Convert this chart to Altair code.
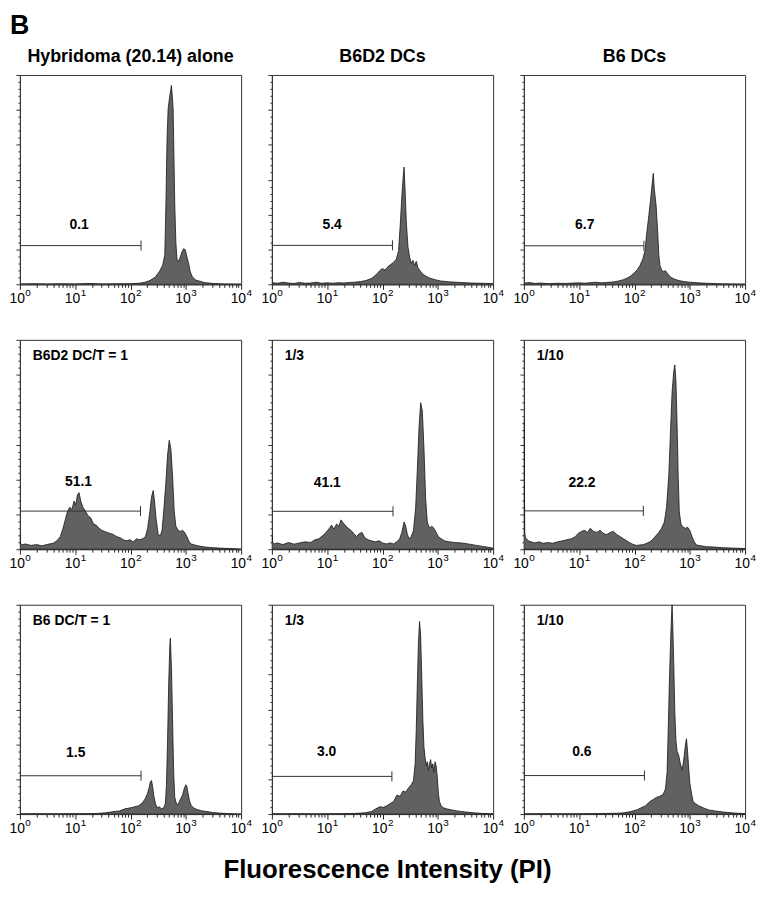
import altair as alt
import pandas as pd

FONT = "Liberation Sans"
W, H = 223, 211

# ---- histogram data: x = decade (log10 of PI fluorescence), y = % of panel full scale ----
hyb_x = [0.0, 0.25, 0.5, 0.75, 1.0, 1.25, 1.5, 1.75, 2.0, 2.15, 2.26, 2.35, 2.45, 2.52, 2.58, 2.62, 2.64, 2.66, 2.68, 2.71, 2.74, 2.76, 2.77, 2.78, 2.80, 2.82, 2.84, 2.87, 2.90, 2.93, 2.96, 2.99, 3.02, 3.05, 3.08, 3.12, 3.18, 3.25, 3.35, 3.5, 3.7, 4.0]
hyb_y = [0.2, 0.3, 0.2, 0.3, 0.2, 0.4, 0.2, 0.3, 0.3, 0.5, 1.0, 1.8, 3.5, 6, 9, 14, 38, 69, 84, 90, 95, 88, 84, 69, 38, 20, 12, 11, 13, 15.5, 17, 16.5, 13, 10, 6, 3.5, 2, 1.5, 0.8, 0.4, 0.2, 0.1]

b6d2_x = [0, 0.1, 0.2, 0.3, 0.4, 0.5, 0.6, 0.7, 0.8, 0.9, 1.0, 1.1, 1.2, 1.3, 1.4, 1.5, 1.6, 1.7, 1.8, 1.88, 1.95, 2.0, 2.05, 2.1, 2.15, 2.2, 2.25, 2.29, 2.32, 2.35, 2.37, 2.39, 2.41, 2.43, 2.46, 2.49, 2.52, 2.55, 2.58, 2.61, 2.64, 2.68, 2.72, 2.78, 2.85, 2.95, 3.05, 3.2, 3.4, 3.6, 3.8, 4.0]
b6d2_y = [0.8, 0.5, 1.0, 0.6, 0.4, 0.9, 0.5, 0.6, 1.0, 0.5, 0.7, 0.5, 0.8, 0.6, 0.9, 1.0, 1.3, 1.8, 2.8, 4.5, 6.5, 7.5, 6.8, 8.5, 9.5, 10.5, 12, 16, 28, 42, 50, 56, 44, 30, 18, 13, 10, 11.5, 9, 11, 8, 6.5, 5, 4, 3, 2.2, 1.6, 1.2, 0.9, 0.6, 0.5, 0.3]

b6_x = [0, 0.1, 0.2, 0.3, 0.45, 0.6, 0.75, 0.9, 1.0, 1.1, 1.2, 1.3, 1.4, 1.5, 1.6, 1.7, 1.8, 1.87, 1.93, 2.0, 2.05, 2.1, 2.15, 2.19, 2.22, 2.26, 2.29, 2.32, 2.34, 2.36, 2.39, 2.42, 2.44, 2.46, 2.49, 2.52, 2.56, 2.6, 2.65, 2.72, 2.8, 2.9, 3.0, 3.15, 3.3, 3.5, 3.75, 4.0]
b6_y = [0.5, 0.9, 0.4, 0.6, 0.3, 0.5, 0.4, 0.6, 0.7, 0.5, 0.8, 1.0, 0.7, 0.9, 1.1, 1.5, 2.2, 3.0, 4.0, 5.5, 7, 9, 12, 16, 24, 33, 40, 48, 53, 45, 38, 25, 14, 9, 7, 6, 6.5, 5, 3.5, 2.5, 1.8, 1.3, 1.0, 0.7, 0.5, 0.3, 0.2, 0.1]

b6d2_1_x = [0, 0.01, 0.03, 0.1, 0.2, 0.3, 0.4, 0.5, 0.6, 0.67, 0.73, 0.78, 0.82, 0.86, 0.9, 0.94, 0.98, 1.01, 1.04, 1.07, 1.1, 1.14, 1.18, 1.23, 1.28, 1.33, 1.38, 1.43, 1.48, 1.53, 1.58, 1.63, 1.69, 1.75, 1.81, 1.87, 1.93, 1.99, 2.05, 2.11, 2.16, 2.22, 2.27, 2.31, 2.35, 2.38, 2.41, 2.43, 2.46, 2.5, 2.54, 2.57, 2.6, 2.64, 2.67, 2.7, 2.73, 2.76, 2.79, 2.82, 2.86, 2.9, 2.94, 2.98, 3.02, 3.06, 3.1, 3.16, 3.24, 3.35, 3.5, 3.7, 3.9, 4.0]
b6d2_1_y = [7, 3, 2, 2.5, 1.8, 2.2, 1.6, 2.3, 2.8, 4, 6, 10, 14, 18, 20, 19, 23, 21, 26, 27, 23, 20, 18.5, 16, 15, 12, 11.5, 10, 9, 8.5, 8, 7.5, 7, 6, 5.5, 4.5, 4, 4.5, 3.5, 5, 4.5, 5, 6, 10, 18, 25, 28, 24, 15, 7, 6.5, 9, 18, 32, 45, 52, 48, 35, 18, 11, 9, 8.5, 9, 8, 6, 3.5, 2.5, 2, 1.5, 1, 0.7, 0.4, 0.2, 0]

b6d2_3_x = [0, 0.01, 0.04, 0.1, 0.2, 0.3, 0.4, 0.5, 0.6, 0.7, 0.78, 0.85, 0.92, 0.98, 1.04, 1.08, 1.12, 1.17, 1.21, 1.25, 1.29, 1.34, 1.38, 1.43, 1.48, 1.53, 1.58, 1.63, 1.68, 1.74, 1.8, 1.87, 1.94, 2.0, 2.07, 2.14, 2.2, 2.26, 2.31, 2.35, 2.39, 2.42, 2.45, 2.48, 2.52, 2.56, 2.6, 2.63, 2.66, 2.69, 2.72, 2.75, 2.78, 2.81, 2.85, 2.89, 2.93, 2.97, 3.01, 3.06, 3.12, 3.2, 3.3, 3.42, 3.55, 3.7, 3.85, 4.0]
b6d2_3_y = [7, 3.5, 2.5, 3, 2.2, 3.2, 2.4, 3, 3.5, 3.2, 4.5, 5, 6.5, 8, 10, 11.5, 9.5, 12, 11, 14, 12.5, 11, 10, 9, 7.5, 6, 7.5, 8, 5.5, 4.5, 4, 3.5, 4, 3, 2.5, 3, 2.5, 3.5, 5, 8, 13, 11, 7, 5, 6, 9, 20, 38, 58, 70, 66, 48, 24, 13, 10, 11, 10, 8, 6, 5, 4, 3.5, 3.2, 3, 2.5, 1.8, 1.2, 0.5]

b6d2_10_x = [0, 0.008, 0.016, 0.03, 0.08, 0.13, 0.2, 0.27, 0.35, 0.43, 0.52, 0.61, 0.7, 0.78, 0.86, 0.93, 0.98, 1.04, 1.1, 1.15, 1.2, 1.26, 1.32, 1.38, 1.44, 1.5, 1.56, 1.62, 1.68, 1.74, 1.8, 1.86, 1.92, 1.98, 2.04, 2.1, 2.16, 2.22, 2.28, 2.34, 2.39, 2.44, 2.49, 2.54, 2.58, 2.62, 2.65, 2.68, 2.71, 2.73, 2.75, 2.77, 2.79, 2.81, 2.84, 2.88, 2.92, 2.96, 3.0, 3.04, 3.08, 3.12, 3.2, 3.3, 3.45, 3.6, 3.8, 4.0]
b6d2_10_y = [62, 40, 8, 5.5, 4, 3.5, 3, 3.5, 2.8, 3.2, 2.8, 3.5, 4, 4.5, 5, 6, 7.5, 8.5, 9, 8, 10, 8.5, 8, 9, 7.5, 7, 8, 8.5, 7, 6, 5, 4, 3, 2.2, 1.8, 2, 2.2, 2.8, 3.5, 5, 6.5, 8, 10, 13, 20, 35, 55, 75, 85, 88, 80, 60, 35, 18, 12, 10.5, 10, 10.5, 9, 6, 3.5, 2, 1.6, 1.2, 1, 0.7, 0.5, 0.3]

b6_1_x = [0, 0.3, 0.6, 0.9, 1.2, 1.4, 1.55, 1.7, 1.8, 1.9, 2.0, 2.08, 2.15, 2.22, 2.27, 2.31, 2.34, 2.36, 2.38, 2.40, 2.42, 2.45, 2.48, 2.52, 2.56, 2.6, 2.63, 2.65, 2.67, 2.69, 2.71, 2.72, 2.74, 2.76, 2.78, 2.8, 2.83, 2.86, 2.9, 2.94, 2.97, 3.0, 3.02, 3.04, 3.07, 3.1, 3.14, 3.2, 3.28, 3.38, 3.5, 3.65, 3.8, 4.0]
b6_1_y = [0.1, 0.2, 0.1, 0.2, 0.2, 0.3, 0.6, 1.2, 1.5, 2.5, 3, 3.5, 4, 5.5, 7.5, 10, 13, 15.5, 16, 13, 9, 5, 3, 3.5, 2.5, 3, 5, 14, 35, 62, 80, 84, 70, 45, 20, 8, 5, 4.5, 7, 9, 12, 14, 13, 10, 6, 4, 3, 2.2, 1.6, 1.2, 0.7, 0.4, 0.2, 0]

b6_3_x = [0, 0.4, 0.8, 1.2, 1.5, 1.68, 1.8, 1.88, 1.95, 2.02, 2.08, 2.14, 2.2, 2.26, 2.32, 2.37, 2.42, 2.47, 2.52, 2.56, 2.59, 2.61, 2.63, 2.65, 2.67, 2.69, 2.71, 2.73, 2.75, 2.77, 2.79, 2.81, 2.83, 2.85, 2.87, 2.89, 2.91, 2.93, 2.95, 2.97, 2.99, 3.01, 3.03, 3.06, 3.1, 3.16, 3.25, 3.35, 3.5, 3.65, 3.8, 4.0]
b6_3_y = [0.1, 0.2, 0.1, 0.2, 0.3, 0.6, 1.2, 2.5, 3.5, 3.2, 4, 5, 6, 9, 8.5, 11, 10.5, 12.5, 14, 16, 24, 40, 62, 82, 92, 85, 65, 45, 32, 27, 23, 25, 21, 24, 26, 22, 24, 20, 25, 23, 18, 10, 6, 4, 3, 2.5, 2, 1.5, 1, 0.6, 0.3, 0.1]

b6_10_x = [0, 0.4, 0.8, 1.2, 1.5, 1.7, 1.81, 1.93, 2.04, 2.12, 2.2, 2.28, 2.34, 2.4, 2.46, 2.52, 2.56, 2.59, 2.61, 2.63, 2.65, 2.67, 2.68, 2.69, 2.71, 2.73, 2.75, 2.77, 2.8, 2.83, 2.86, 2.88, 2.9, 2.92, 2.94, 2.96, 2.98, 3.0, 3.03, 3.06, 3.1, 3.16, 3.24, 3.34, 3.45, 3.6, 3.8, 4.0]
b6_10_y = [0.1, 0.2, 0.1, 0.2, 0.3, 0.4, 0.6, 1.2, 2, 3, 4, 6, 7, 8, 8.5, 9.5, 12, 20, 40, 62, 80, 95, 100, 92, 72, 48, 35, 30, 28, 24, 21, 24, 28, 33, 36, 30, 22, 15, 10, 6, 5, 4, 3, 2, 1.5, 1, 0.5, 0.2]

hist_x = [hyb_x, b6d2_x, b6_x, b6d2_1_x, b6d2_3_x, b6d2_10_x, b6_1_x, b6_3_x, b6_10_x]
hist_y = [hyb_y, b6d2_y, b6_y, b6d2_1_y, b6d2_3_y, b6d2_10_y, b6_1_y, b6_3_y, b6_10_y]

# ---- gate markers and percentages ----
gate_end = [2.19, 2.18, 2.17, 2.18, 2.19, 2.16, 2.19, 2.17, 2.18]   # decades
gate_y = [18.5, 18.6, 18.4, 18.2, 18.1, 18.3, 18.3, 18.0, 18.4]
gate_pct = ["0.1", "5.4", "6.7", "51.1", "41.1", "22.2", "1.5", "3.0", "0.6"]
pct_x = [1.07, 1.09, 1.10, 1.06, 1.00, 1.05, 1.01, 0.99, 1.05]
pct_y = [28.4, 28.4, 28.1, 32.0, 31.6, 31.7, 29.2, 29.7, 29.8]

top_titles = ["Hybridoma (20.14) alone", "B6D2 DCs", "B6 DCs"]
inner_labels = ["", "", "", "B6D2 DC/T = 1", "1/3", "1/10", "B6 DC/T = 1", "1/3", "1/10"]
panel_letter = "B"
x_title = "Fluorescence Intensity (PI)"

# tick labels: base "10" with superscript exponent
tick_powers = [0, 1, 2, 3, 4]
tick_base = ["10", "10", "10", "10", "10"]
tick_exp = ["0", "1", "2", "3", "4"]

# ---- axes ----
major_vals = [10 ** p for p in tick_powers]
all_vals = [k * 10 ** n for n in range(4) for k in range(1, 10)] + [10 ** 4]
major_test = " || ".join(f"datum.value == {v}" for v in major_vals)

xscale = alt.Scale(type="log", domain=[1, 10000], nice=False)
xaxis = alt.Axis(
    values=all_vals, labels=False, title=None, grid=False,
    tickColor="#222", tickWidth=1,
    tickSize={"condition": {"test": major_test, "value": 5}, "value": 3},
    domainColor="#333",
)
yscale = alt.Scale(domain=[0, 100], nice=False, zero=True)
yaxis = alt.Axis(
    values=[i * 100 / 30 for i in range(31)], labels=False, title=None, grid=False,
    tickColor="#333", tickWidth=1,
    tickSize={"condition": {"test": "round(datum.value * 0.3) % 5 == 0", "value": 4}, "value": 2},
    domainColor="#333",
)


def X(f):
    return alt.X(f, type="quantitative", scale=xscale, axis=xaxis)


def Y(f):
    return alt.Y(f, type="quantitative", scale=yscale, axis=yaxis)


def text_layer(txt, x, y, size, align="left", baseline="middle"):
    return alt.Chart(pd.DataFrame({"t": [txt]})).mark_text(
        font=FONT, fontSize=size, fontWeight="bold", color="black",
        align=align, baseline=baseline,
    ).encode(x=alt.value(x), y=alt.value(y), text="t:N")


tick_df = pd.DataFrame({"pos": major_vals, "base": tick_base, "exp": tick_exp})


def panel(i):
    df = pd.DataFrame({"fi": [10 ** d for d in hist_x[i]], "count": hist_y[i]})
    area = alt.Chart(df).mark_area(
        fill="#616161", stroke="#151515", strokeWidth=0.8, interpolate="linear", clip=True
    ).encode(x=X("fi"), y=Y("count"))

    gdf = pd.DataFrame({
        "x0": [1], "x1": [10 ** gate_end[i]], "gy": [gate_y[i]],
        "ylo": [gate_y[i] - 2.4], "yhi": [gate_y[i] + 2.4],
        "lx": [10 ** pct_x[i]], "ly": [pct_y[i]], "lab": [gate_pct[i]],
    })
    gate = alt.Chart(gdf).mark_rule(color="#333", strokeWidth=1).encode(
        x=X("x0"), x2="x1", y=Y("gy"))
    cap = alt.Chart(gdf).mark_rule(color="#333", strokeWidth=1).encode(
        x=X("x1"), y=Y("ylo"), y2="yhi")
    pct = alt.Chart(gdf).mark_text(
        font=FONT, fontSize=14, fontWeight="bold", color="black"
    ).encode(x=X("lx"), y=Y("ly"), text="lab:N")

    lab_base = alt.Chart(tick_df).mark_text(
        font=FONT, fontSize=14, color="black", align="right", baseline="alphabetic", dx=5
    ).encode(x=X("pos"), y=alt.value(H + 19), text="base:N")
    lab_exp = alt.Chart(tick_df).mark_text(
        font=FONT, fontSize=10, color="black", align="left", baseline="alphabetic", dx=5.5, dy=-7
    ).encode(x=X("pos"), y=alt.value(H + 19), text="exp:N")

    layers = [area, gate, cap, pct, lab_base, lab_exp]
    if i < 3:
        layers.append(text_layer(top_titles[i], W / 2, -13, 18, align="center", baseline="alphabetic"))
    if inner_labels[i]:
        layers.append(text_layer(inner_labels[i], 13, 16, 14))
    if i == 0:
        layers.append(text_layer(panel_letter, -10, -41, 27, baseline="alphabetic"))
    if i == 7:
        layers.append(text_layer(x_title, W / 2 + 5, H + 64, 26, align="center", baseline="alphabetic"))
    return alt.layer(*layers).properties(width=W, height=H)


chart = alt.concat(
    *[panel(i) for i in range(9)], columns=3,
    spacing={"row": 56, "column": 31}, bounds="flush",
).properties(padding=0).configure_view(stroke="#333", strokeWidth=1)

chart.save("out.html", embed_options={"renderer": "svg", "actions": False})
